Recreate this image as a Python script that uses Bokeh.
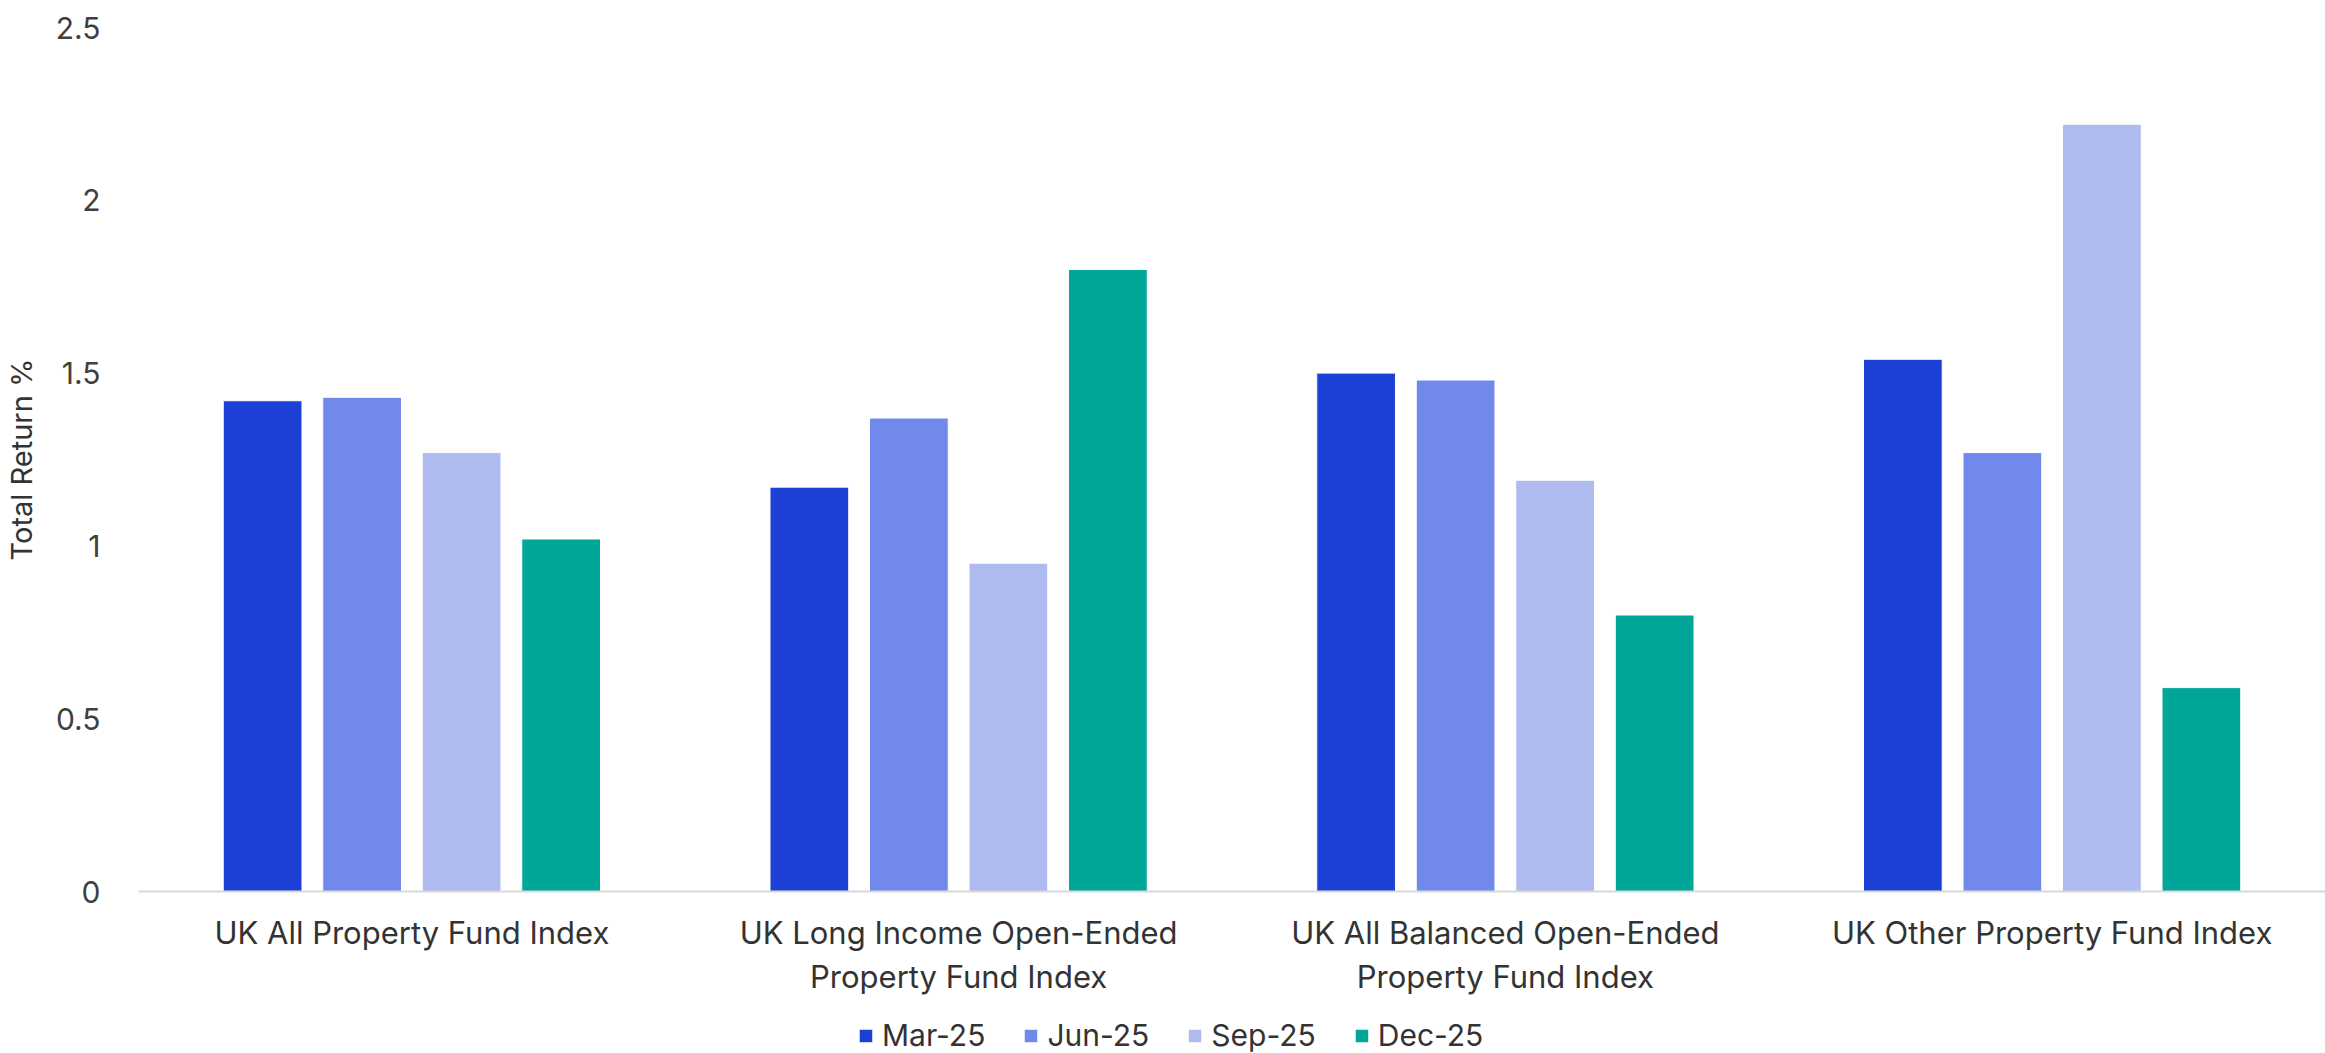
from bokeh.plotting import figure
from bokeh.models import FactorRange, Range1d, FixedTicker, Legend
from bokeh.layouts import column
from bokeh.transform import dodge
from bokeh.embed import file_html
from bokeh.resources import INLINE

categories = [
    "UK All Property Fund Index",
    "UK Long Income Open-Ended\nProperty Fund Index",
    "UK All Balanced Open-Ended\nProperty Fund Index",
    "UK Other Property Fund Index",
]
series_names = ["Mar-25", "Jun-25", "Sep-25", "Dec-25"]
mar25 = [1.42, 1.17, 1.50, 1.54]
jun25 = [1.43, 1.37, 1.48, 1.27]
sep25 = [1.27, 0.95, 1.19, 2.22]
dec25 = [1.02, 1.80, 0.80, 0.59]
y_ticks = [0, 0.5, 1, 1.5, 2, 2.5]
y_tick_labels = ["0", "0.5", "1", "1.5", "2", "2.5"]
y_title = "Total Return %"

colors = ["#1C3FD6", "#7289EC", "#AFBAEF", "#00A698"]
offsets = [-0.273, -0.091, 0.091, 0.273]
FONT = "Inter"

data = {"cat": categories, "Mar-25": mar25, "Jun-25": jun25, "Sep-25": sep25, "Dec-25": dec25}

p = figure(
    x_range=FactorRange(factors=categories),
    y_range=Range1d(0, 2.5),
    width=2325, height=1008,
    output_backend="svg", toolbar_location=None,
    min_border_left=136, min_border_right=0, min_border_top=27, min_border_bottom=117,
)
p.outline_line_color = None
p.background_fill_color = "white"
p.border_fill_color = "white"
p.xgrid.grid_line_color = None
p.ygrid.grid_line_color = None

for name, col, off in zip(series_names, colors, offsets):
    p.vbar(x=dodge("cat", off, range=p.x_range), top=name, width=0.144,
           source=data, fill_color=col, line_color="white", line_width=1)

# y axis
yax = p.yaxis[0]
yax.ticker = FixedTicker(ticks=y_ticks)
yax.major_label_overrides = {t: l for t, l in zip(y_ticks, y_tick_labels)}
yax.axis_line_color = None
yax.major_tick_line_color = None
yax.minor_tick_line_color = None
yax.major_label_text_font = FONT
yax.major_label_text_font_size = "30px"
yax.major_label_text_color = "#404040"
yax.major_label_standoff = 32
yax.axis_label = y_title
yax.axis_label_text_font = FONT
yax.axis_label_text_font_size = "29px"
yax.axis_label_text_font_style = "normal"
yax.axis_label_text_color = "#333333"
yax.axis_label_standoff = 14

# x axis
xax = p.xaxis[0]
xax.axis_line_color = "#D9D9D9"
xax.axis_line_width = 2
xax.major_tick_line_color = None
xax.minor_tick_line_color = None
xax.major_label_text_font = FONT
xax.major_label_text_font_size = "31px"
xax.major_label_text_color = "#333333"
xax.major_label_standoff = 16

# legend strip (separate figure so nothing is clipped)
lg = figure(
    x_range=FactorRange(factors=categories), y_range=Range1d(-2, -1),
    width=2325, height=45, output_backend="svg", toolbar_location=None,
    min_border_left=136, min_border_right=0, min_border_top=0, min_border_bottom=0,
    x_axis_location=None, y_axis_location=None,
)
lg.outline_line_color = None
lg.xgrid.grid_line_color = None
lg.ygrid.grid_line_color = None
items = []
for name, col, off in zip(series_names, colors, offsets):
    r = lg.vbar(x=dodge("cat", off, range=lg.x_range), top=name, width=0.144,
                source=data, fill_color=col, line_color="white", line_width=1,
                visible=False)
    items.append((name, [r]))

legend = Legend(items=items, orientation="horizontal", location=(719, 0),
                glyph_width=17, glyph_height=17, label_standoff=8, spacing=37,
                label_text_font=FONT, label_text_font_size="30px",
                label_text_color="#333333",
                border_line_color=None, background_fill_color=None,
                padding=0, margin=0)
lg.add_layout(legend, "center")

layout = column(p, lg, spacing=0)
open("out.html", "w").write(file_html(layout, INLINE))
